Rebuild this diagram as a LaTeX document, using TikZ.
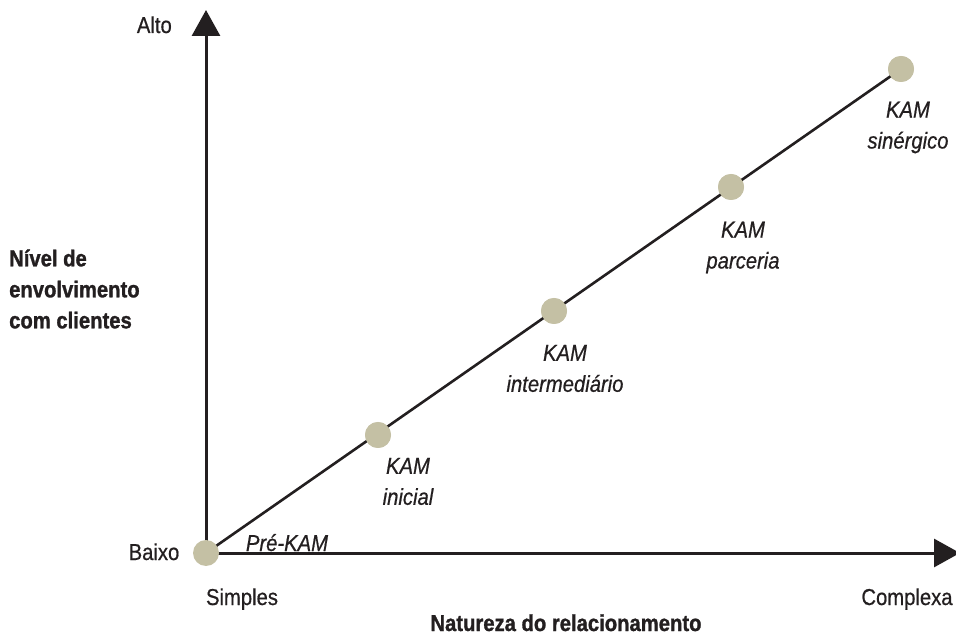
\documentclass[tikz,border=0pt]{standalone}
\usepackage{fontspec}
\setmainfont[FakeStretch=0.88, FakeBold=0.6]{Liberation Sans}
\newfontfamily\boldfam[FakeStretch=0.88, FakeBold=1.2]{Liberation Sans Bold}
\newfontfamily\italfam[FakeStretch=0.88, FakeBold=0.6]{Liberation Sans Italic}
\usetikzlibrary{arrows.meta}
\definecolor{ink}{RGB}{35,31,32}
\definecolor{dotc}{RGB}{196,192,164}
\tikzset{
  axis/.style={draw=ink, line width=3pt, -{Triangle[width=28pt,length=26pt]}},
  diag/.style={draw=ink, line width=2.6pt},
  dot/.style={circle, fill=dotc, minimum size=26pt, inner sep=0pt},
  lbl/.style={text=ink, font=\fontsize{23}{31}\selectfont, inner sep=0pt},
  blbl/.style={text=ink, font=\fontsize{23}{31}\selectfont\boldfam, inner sep=0pt},
  ilbl/.style={text=ink, font=\fontsize{23}{31}\selectfont\italfam, inner sep=0pt, align=center},
}
\begin{document}
\begin{tikzpicture}[x=1pt,y=1pt]
\useasboundingbox (0,0) rectangle (956,635);
\clip (0,0) rectangle (956,635);
\coordinate (o) at (206,82);
\coordinate (top) at (206,625);
\coordinate (right) at (960,82);
\node[dot] (d1) at (378,200) {};
\node[dot] (d2) at (554,324) {};
\node[dot] (d3) at (731,448) {};
\node[dot] (d4) at (901,566) {};
\draw[diag] (o) -- (d4.center);
\draw[axis] (o) -- (top);
\draw[axis] (o) -- (right);
\node[dot] (d0) at (o) {};
\node[dot] at (d1) {};
\node[dot] at (d2) {};
\node[dot] at (d3) {};
\node[dot] at (d4) {};
\node[lbl, anchor=base east] (alto) at (172,602) {Alto};
\node[lbl, anchor=base] (baixo) at (154,75) {Baixo};
\node[lbl, anchor=base] (simples) at (242,30) {Simples};
\node[lbl, anchor=base] (complexa) at (907,30) {Complexa};
\node[blbl, anchor=base] (nat) at (566,4) {Natureza do relacionamento};
\node[blbl, anchor=west, align=left] (niv) at (9,346) {Nível de\\envolvimento\\com clientes};
\node[ilbl, anchor=base] (pre) at (287,84) {Pré-KAM};
\node[ilbl] (l1) at (408,153.5) {KAM\\inicial};
\node[ilbl] (l2) at (565,266.5) {KAM\\intermediário};
\node[ilbl] (l3) at (743,387.5) {KAM\\parceria};
\node[ilbl] (l4) at (908,507.5) {KAM\\sinérgico};
\end{tikzpicture}
\end{document}
